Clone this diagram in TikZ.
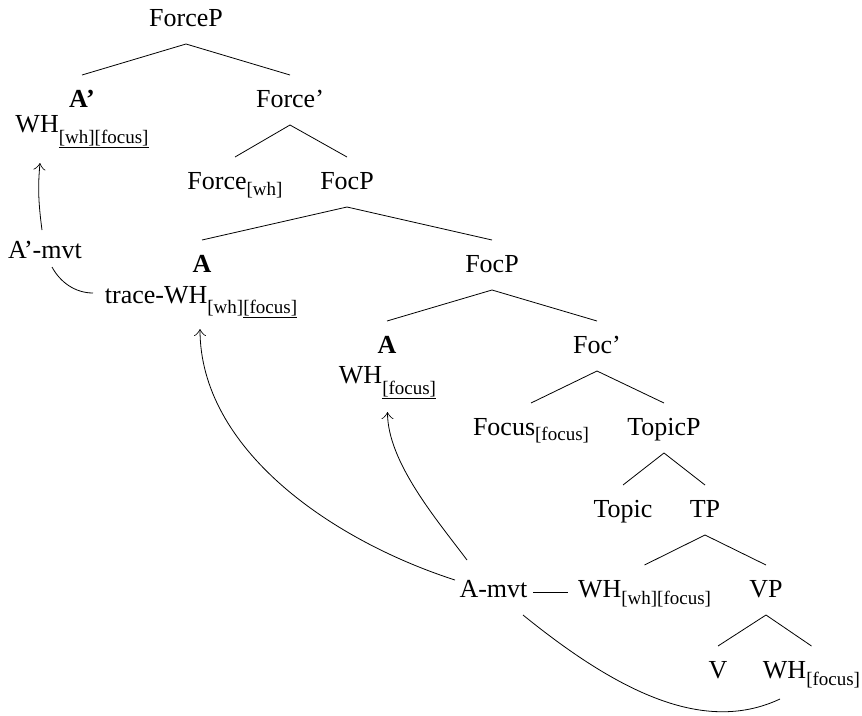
\documentclass[tikz,border=0pt]{standalone}
\usepackage{fontspec}
\setmainfont{Liberation Serif}
\usetikzlibrary{calc,arrows.meta}
% lowered, smaller feature subscript: #1 = drop in pt, #2 = text
\newcommand\lowsub[2]{\raisebox{-#1pt}{\fontsize{19}{19}\selectfont #2}}
\begin{document}
\begin{tikzpicture}[x=1pt,y=-1pt,
  every node/.style={font=\fontsize{26}{31}\selectfont, anchor=base,
    inner sep=0pt, outer xsep=0pt, outer ysep=12pt,
    text height=20pt, text depth=6pt},
  branch/.style={line width=0.8pt},
  mvt/.style={line width=0.8pt},
  mvtarrow/.style={mvt, -{Classical TikZ Rightarrow[length=7pt,width=12pt]}}]
\useasboundingbox (0,0) rectangle (862,715);

% tree nodes
\node (forceP)   at (186,26)  {ForceP};
\node (abarLbl)  at (82,107)  {\textbf{A'}};
\node (whTop)    at (82,132)  {WH\lowsub{11}{\underline{[wh][focus]}}};
\node (forceBar) at (290,107) {Force'};
\node (forceH)   at (235,189) {Force\lowsub{6}{[wh]}};
\node (focP1)    at (347,189) {FocP};
\node (aLbl1)    at (202,272) {\textbf{A}};
\node (traceWH)  at (201,303) {trace-WH\lowsub{10}{[wh]\underline{[focus]}}};
\node (focP2)    at (492,272) {FocP};
\node (aLbl2)    at (387,353) {\textbf{A}};
\node (whFoc)    at (387.5,383) {WH\lowsub{11}{\underline{[focus]}}};
\node (focBar)   at (597,353) {Foc'};
\node (focusH)   at (531,435) {Focus\lowsub{5}{[focus]}};
\node (topicP)   at (664,435) {TopicP};
\node (topic)    at (623,517) {Topic};
\node (tp)       at (705,517) {TP};
\node (whT)      at (644.5,597) {WH\lowsub{7}{[wh][focus]}};
\node (vp)       at (766,597) {VP};
\node (v)        at (718,678) {V};
\node (whV)      at (811.5,678) {WH\lowsub{7}{[focus]}};

% movement labels
\node (amvtHigh) at (45,258)  {A'-mvt};
\node (amvtLow)  at (493.5,597) {A-mvt};

% branches
\foreach \p/\c in {forceP/abarLbl, forceP/forceBar,
                   forceBar/forceH, forceBar/focP1,
                   focP1/aLbl1, focP1/focP2,
                   focP2/aLbl2, focP2/focBar,
                   focBar/focusH, focBar/topicP,
                   topicP/topic, topicP/tp,
                   tp/whT, tp/vp,
                   vp/v, vp/whV}
  \draw[branch] (\p.south) -- (\c.north);

% A'-movement
\draw[mvtarrow] ($(amvtHigh.north)+(-3,4)$)
  .. controls +(-4,-30) and +(-2,22) .. ($(whTop.base)+(-42,31)$);
\draw[mvt] ($(amvtHigh.base)+(7,9)$)
  .. controls +(8,15) and +(-18,0) .. ($(traceWH.base)+(-108,-10)$);

% A-movement
\draw[mvtarrow] ($(amvtLow.base)+(-38.5,-17)$)
  .. controls +(-124,-40) and +(0,120) .. ($(traceWH.base)+(-1,26)$);
\draw[mvtarrow] ($(amvtLow.base)+(-26.5,-37)$)
  .. controls +(-30,-40) and +(0,50) .. ($(whFoc.base)+(0,29)$);
\draw[mvt] ($(amvtLow.base)+(39.5,-5)$) -- ($(whT.base)+(-76.5,-5)$);
\draw[mvt] ($(amvtLow.base)+(29.5,18)$)
  .. controls +(101,82) and +(-72.5,34) .. ($(whV.base)+(-31.5,21)$);
\end{tikzpicture}
\end{document}
